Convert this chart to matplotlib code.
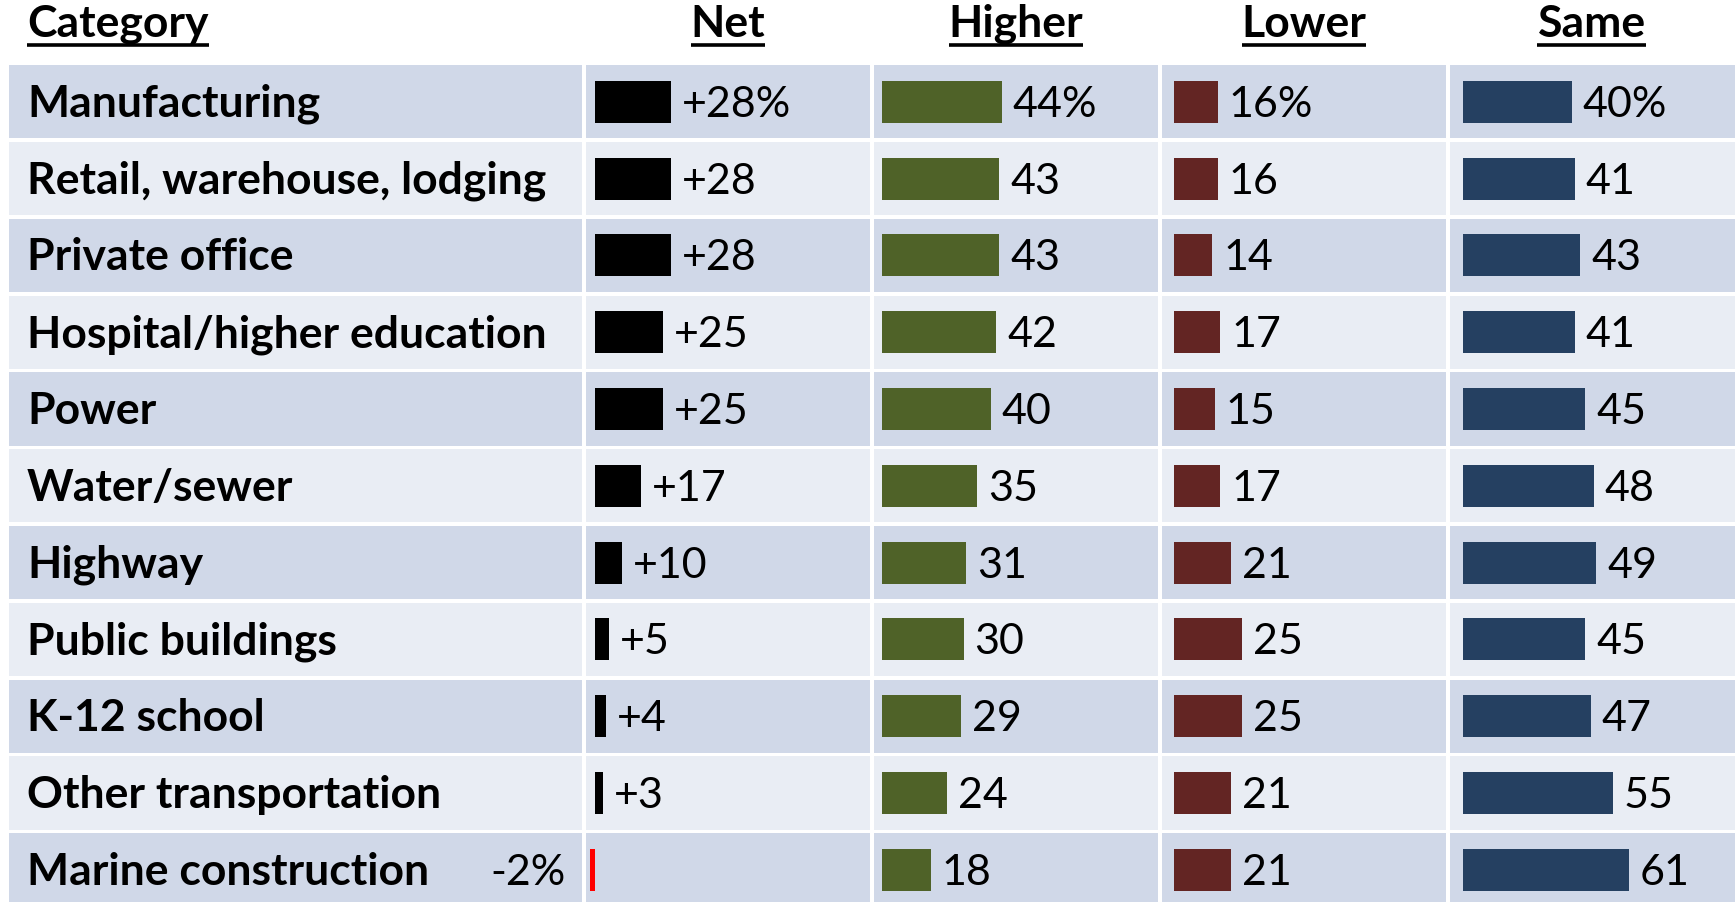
import matplotlib
matplotlib.use("Agg")
import matplotlib.pyplot as plt

# data
categories = ["Manufacturing", "Retail, warehouse, lodging", "Private office",
              "Hospital/higher education", "Power", "Water/sewer", "Highway",
              "Public buildings", "K-12 school", "Other transportation",
              "Marine construction"]
net = [28, 28, 28, 25, 25, 17, 10, 5, 4, 3, -2]
higher = [44, 43, 43, 42, 40, 35, 31, 30, 29, 24, 18]
lower = [16, 16, 14, 17, 15, 17, 21, 25, 25, 21, 21]
same = [40, 41, 43, 41, 45, 48, 49, 45, 47, 55, 61]
headers = ["Category", "Net", "Higher", "Lower", "Same"]

plt.rcParams['font.family'] = ['Lato', 'DejaVu Sans']

W, H = 1735, 902
fig = plt.figure(figsize=(W / 100, H / 100), dpi=100)
ax = fig.add_axes([0, 0, 1, 1])
ax.set_xlim(0, W)
ax.set_ylim(H, 0)
ax.axis('off')

# table geometry (pixels)
col_edges = [9, 584, 872, 1160, 1448, 1735]
row0 = 101.8
pitch = 76.8
gap = 3.5
bar_h = 42
unit = 2.72
bar_start = [595, 882, 1174, 1463]
dark = "#D0D8E8"
light = "#E9EDF4"

n = len(categories)
ys = [row0 + i * pitch for i in range(n)]
row_cols = [dark if i % 2 == 0 else light for i in range(n)]

# cell backgrounds
for c in range(5):
    left = col_edges[c] + (0 if c == 0 else gap / 2)
    right = col_edges[c + 1] - (gap / 2 if c < 4 else 0)
    ax.barh(ys, right - left, left=left, height=pitch - gap,
            color=row_cols, edgecolor='none', zorder=1)

fs_cat = 32
fs_val = 31

# category names
for y, name in zip(ys, categories):
    ax.text(27, y + 15, name, fontsize=fs_cat, fontweight='bold',
            va='baseline', ha='left', zorder=3)

series = [net, higher, lower, same]
colors = ["#000000", "#4F6228", "#632523", "#254061"]
for k, (vals, col) in enumerate(zip(series, colors)):
    x0 = bar_start[k]
    bar_cols = [col if v >= 0 else "#FF0000" for v in vals]
    ax.barh(ys, [v * unit for v in vals], left=x0, height=bar_h,
            color=bar_cols, edgecolor='none', zorder=2)
    for i, (y, v) in enumerate(zip(ys, vals)):
        if k == 0:
            txt = ("+%d" % v) if v >= 0 else ("%d" % v)
        else:
            txt = "%d" % v
        if i == 0 or v < 0:
            txt += "%"
        if v >= 0:
            ax.text(x0 + v * unit + 11, y + 15, txt, fontsize=fs_val,
                    va='baseline', ha='left', zorder=3)
        else:
            ax.text(x0 + v * unit - 24, y + 15, txt, fontsize=fs_val,
                    va='baseline', ha='right', zorder=3)

# underlined headers
head_x = [27] + [(col_edges[c] + col_edges[c + 1]) / 2 for c in range(1, 5)]
head_ha = ['left'] + ['center'] * 4
htexts = []
for x, t, ha in zip(head_x, headers, head_ha):
    htexts.append(ax.text(x, 37, t, fontsize=fs_cat, fontweight='bold',
                          va='baseline', ha=ha, zorder=3))
fig.canvas.draw()
r = fig.canvas.get_renderer()
inv = ax.transData.inverted()
for t in htexts:
    bb = t.get_window_extent(renderer=r)
    (xa, _), (xb, _) = inv.transform([(bb.x0, 0), (bb.x1, 0)])
    ax.plot([xa, xb], [45, 45], color='black', lw=2.6,
            solid_capstyle='butt', zorder=3)

fig.savefig("out.png", dpi=100, facecolor='white')
